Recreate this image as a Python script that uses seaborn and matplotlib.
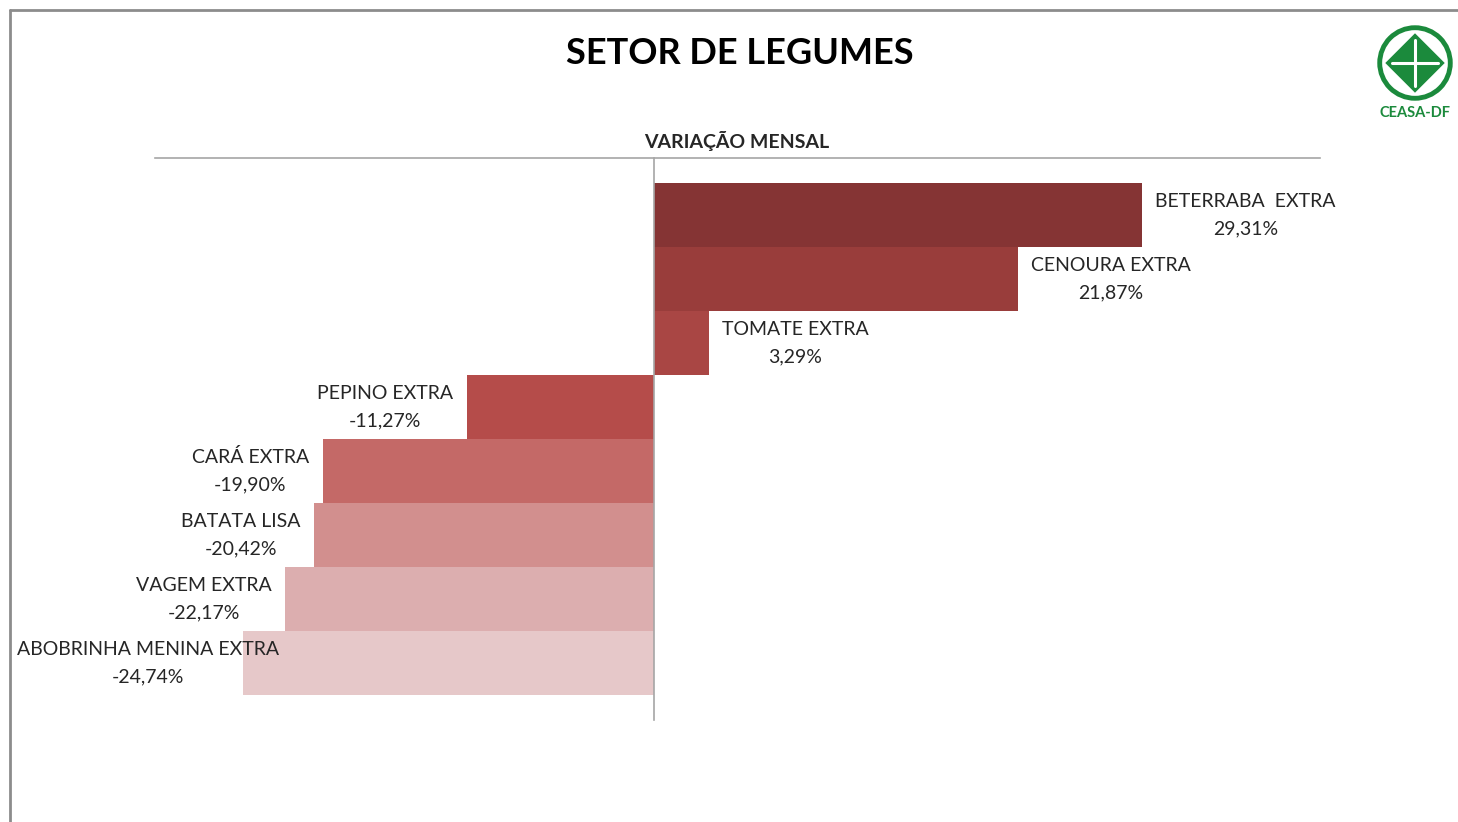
import numpy as np
import pandas as pd
import matplotlib
matplotlib.use('Agg')
import matplotlib.pyplot as plt
from matplotlib.patches import Circle, Polygon
from matplotlib.lines import Line2D
import seaborn as sns

sns.set_style("white")
plt.rcParams['font.family'] = ['Lato', 'DejaVu Sans']

# data
produtos = ['BETERRABA  EXTRA', 'CENOURA EXTRA', 'TOMATE EXTRA', 'PEPINO EXTRA',
            'CARÁ EXTRA', 'BATATA LISA', 'VAGEM EXTRA', 'ABOBRINHA MENINA EXTRA']
variacao = [29.31, 21.87, 3.29, -11.27, -19.90, -20.42, -22.17, -24.74]
cores = ['#853434', '#993d3b', '#a94644', '#b54c4a',
         '#c46967', '#d28f8e', '#dcaeaf', '#e6c8c9']

df = pd.DataFrame({'Produto': produtos, 'Variacao': variacao})

W, H = 1458, 822
fig = plt.figure(figsize=(W / 100, H / 100), dpi=100)
ax = fig.add_axes([155 / W, (H - 720) / H, (1320 - 155) / W, (720 - 158) / H])

sns.barplot(data=df, y='Produto', x='Variacao', hue='Produto', palette=cores,
            order=produtos, hue_order=produtos, dodge=False, width=1.0,
            legend=False, ax=ax, saturation=1, linewidth=0)

pad = 25 / 64
ax.set_ylim(len(produtos) - 0.5 + pad, -0.5 - pad)
ax.set_xlim(-30, 40)
ax.set_xlabel('')
ax.set_ylabel('')
ax.set_xticks([])
ax.set_yticks([])
for s in ['right', 'bottom']:
    ax.spines[s].set_visible(False)
ax.spines['top'].set_color('#a6a6a6')
ax.spines['top'].set_linewidth(1.2)
ax.spines['left'].set_position(('data', 0))
ax.spines['left'].set_color('#a6a6a6')
ax.spines['left'].set_linewidth(1.2)

# labels next to the bars
anns = []
for i, (p, v) in enumerate(zip(produtos, variacao)):
    txt = p + '\n' + f'{v:.2f}'.replace('.', ',') + '%'
    if v >= 0:
        a = ax.annotate(txt, xy=(v, i), xytext=(13, 0), textcoords='offset pixels',
                        ha='left', va='center', multialignment='center',
                        fontsize=14, color='#262626', linespacing=1.75)
    else:
        a = ax.annotate(txt, xy=(v, i), xytext=(-14, 0), textcoords='offset pixels',
                        ha='right', va='center', multialignment='center',
                        fontsize=14, color='#262626', linespacing=1.75)
    anns.append(a)

fig.canvas.draw()
for a in anns:
    bb = a.get_window_extent()
    if bb.x0 < 17:
        a.xyann = (a.xyann[0] + (17 - bb.x0), a.xyann[1])

fig.text(740 / W, 1 - 54 / H, 'SETOR DE LEGUMES', ha='center', va='center',
         fontsize=26, fontweight='bold', color='black')
fig.text(737 / W, 1 - 141 / H, 'VARIAÇÃO MENSAL', ha='center', va='center',
         fontsize=14, fontweight='bold', color='#262626')

# slide frame
fig.add_artist(Line2D([10 / W, 10 / W], [0, 1 - 10 / H], transform=fig.transFigure,
                      color='#8c8c8c', lw=2))
fig.add_artist(Line2D([10 / W, 1], [1 - 10 / H, 1 - 10 / H], transform=fig.transFigure,
                      color='#8c8c8c', lw=2))

# CEASA-DF logo
verde = '#1b8a3c'
lax = fig.add_axes([1376 / W, 1 - 102 / H, 78 / W, 78 / H])
lax.set_xlim(-1.05, 1.05)
lax.set_ylim(-1.05, 1.05)
lax.set_aspect('equal')
lax.axis('off')
lax.add_patch(Circle((0, 0), 0.95, facecolor='white', edgecolor=verde, lw=3.5))
d = 0.8
lax.add_patch(Polygon([(0, d), (d, 0), (0, -d), (-d, 0)], closed=True,
                      facecolor=verde, edgecolor='none'))
lax.plot([0, 0], [-0.62, 0.62], color='white', lw=2.2)
lax.plot([-0.62, 0.62], [0, 0], color='white', lw=2.2)
fig.text(1415 / W, 1 - 113 / H, 'CEASA-DF', ha='center', va='center',
         fontsize=10.5, fontweight='bold', color=verde)

fig.savefig('out.png', dpi=100)
